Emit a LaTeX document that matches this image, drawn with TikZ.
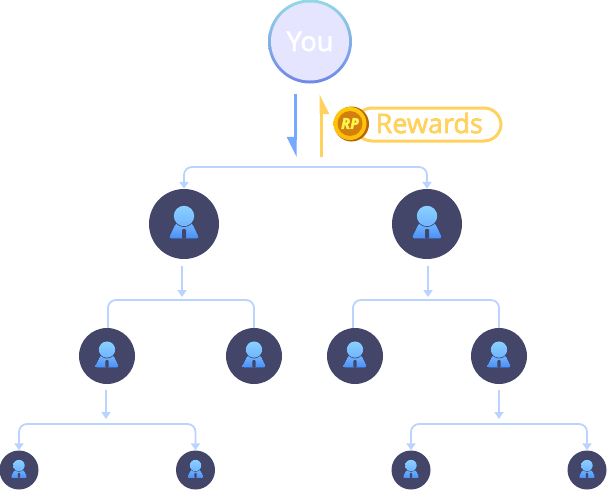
\documentclass[tikz,border=0pt]{standalone}
\usepackage{fontspec}
\setmainfont{Open Sans}
\newfontfamily\tagfont[FakeBold=2.5]{Open Sans}
\usepackage{xcolor}
\usetikzlibrary{arrows.meta,positioning,calc}
\definecolor{linkblue}{HTML}{BAD3FF}
\definecolor{darkdisc}{HTML}{434569}
\definecolor{gold}{HTML}{FFD25E}
\definecolor{downblue}{HTML}{75A9FF}
\definecolor{headtop}{HTML}{8BD0FF}
\definecolor{headlow}{HTML}{6FB4FF}
\definecolor{bodytop}{HTML}{70B6FF}
\definecolor{bodylow}{HTML}{4C8EF6}
\definecolor{ringtop}{HTML}{93DAE3}
\definecolor{ringlow}{HTML}{6F86E8}
\definecolor{coinring}{HTML}{FFC907}
\definecolor{coinface}{HTML}{D27F10}
\definecolor{coinedge}{HTML}{B5650A}
\tikzset{
  pics/person/.style={code={
    \fill[top color=bodytop,bottom color=bodylow,rounded corners=2.5pt]
      (-15.5,14.5) -- (-8,-1) -- (8,-1) -- (15.5,14.5) -- cycle;
    \fill[darkdisc,rounded corners=1pt] (-2,14.5) -- (-2,5) -- (2,5) -- (2,14.5) -- cycle;
    \fill[darkdisc] (0,-8) circle[radius=11pt];
    \fill[top color=headtop,bottom color=headlow] (0,-8) circle[radius=10.3pt];
  }}
}
\begin{document}
\begin{tikzpicture}[
  x=1pt,y=-1pt,
  >={Triangle[length=7pt,width=9pt]},
  big/.style={circle,fill=darkdisc,minimum size=70pt,inner sep=0pt},
  mid/.style={circle,fill=darkdisc,minimum size=56pt,inner sep=0pt},
  small/.style={circle,fill=darkdisc,minimum size=39pt,inner sep=0pt},
  link/.style={draw=linkblue,line width=1.8pt,rounded corners=8pt},
  drop/.style={line width=1.8pt,linkblue},
  tag/.style={font=\tagfont\fontsize{27}{27}\selectfont,inner sep=0pt}]
\useasboundingbox (0,0) rectangle (607,490);
% top node
\node[circle,minimum size=84pt,inner sep=0pt,top color=ringtop,bottom color=ringlow] (you) at (310,41.5) {};
\node[circle,minimum size=78pt,inner sep=0pt,fill=blue!10!white,text=white,tag] (youin) at (you) {You};
% people
\foreach \n/\x/\y/\s in {a/184/224/big,b/427/224/big,
    c/107/356/mid,d/254/356/mid,e/355/356/mid,f/499/356/mid,
    g/19/470/small,h/195.5/470/small,i/411/470/small,j/587/470/small}
  \node[\s] (\n) at (\x,\y) {};
\foreach \n in {a,b} \pic at (\n) {person};
\foreach \n in {c,d,e,f} \pic[scale=.8] at (\n) {person};
\foreach \n in {g,h,i,j} \pic[scale=.56] at (\n) {person};
% reward tag
\coordinate (upin) at (321,94);
\coordinate (upout) at (321,157);
\coordinate (dnin) at (295,94);
\coordinate (dnout) at (295,157);
\draw[line width=3pt,downblue,-{Triangle[harpoon,swap,length=17pt,width=16pt]}] (dnin) -- (dnout);
\draw[line width=3pt,gold,-{Triangle[harpoon,swap,length=17pt,width=16pt]}] (upout) -- (upin);
\node[draw=gold,line width=3pt,rounded corners=17pt,minimum width=146pt,minimum height=33pt,inner sep=0pt] (pill) at (428,124.5) {};
\node[tag,text=gold,right=22pt of pill.west,yshift=1.5pt] (rewards) {Rewards};
\node[circle,fill=coinedge,minimum size=35pt,inner sep=0pt] (coinback) at (351.5,124) {};
\node[circle,top color=coinring,bottom color=coinring!85!orange,minimum size=33pt,inner sep=0pt] (coin) at (350,123.5) {};
\node[circle,fill=coinface,minimum size=25pt,inner sep=0pt,text=yellow!70!white,font=\tagfont\bfseries\itshape\fontsize{15}{15}\selectfont] (coinin) at (350,123.5) {RP};
% links
\coordinate (s0) at (306,167);
\draw[link,->] (s0) -| (a);
\draw[link,->] (s0) -| (b);
\coordinate (s1) at (182,297);
\draw[drop,->] (182,266) -- (s1);
\draw[link] ($(c.north)+(1,0)$) |- (180,300) -| (d.north);
\coordinate (s2) at (428,297);
\draw[drop,->] (428,266) -- (s2);
\draw[link] ($(e.north)+(-2,0)$) |- (428,300) -| (f.north);
\coordinate (s3) at (106,419);
\draw[drop,->] (106,390) -- (s3);
\draw[link,->] (106,424) -| (g);
\draw[link,->] (106,424) -| (h);
\coordinate (s4) at (499,419);
\draw[drop,->] (499,390) -- (s4);
\draw[link,->] (499,424) -| (i);
\draw[link,->] (499,424) -| (j);
\end{tikzpicture}
\end{document}
